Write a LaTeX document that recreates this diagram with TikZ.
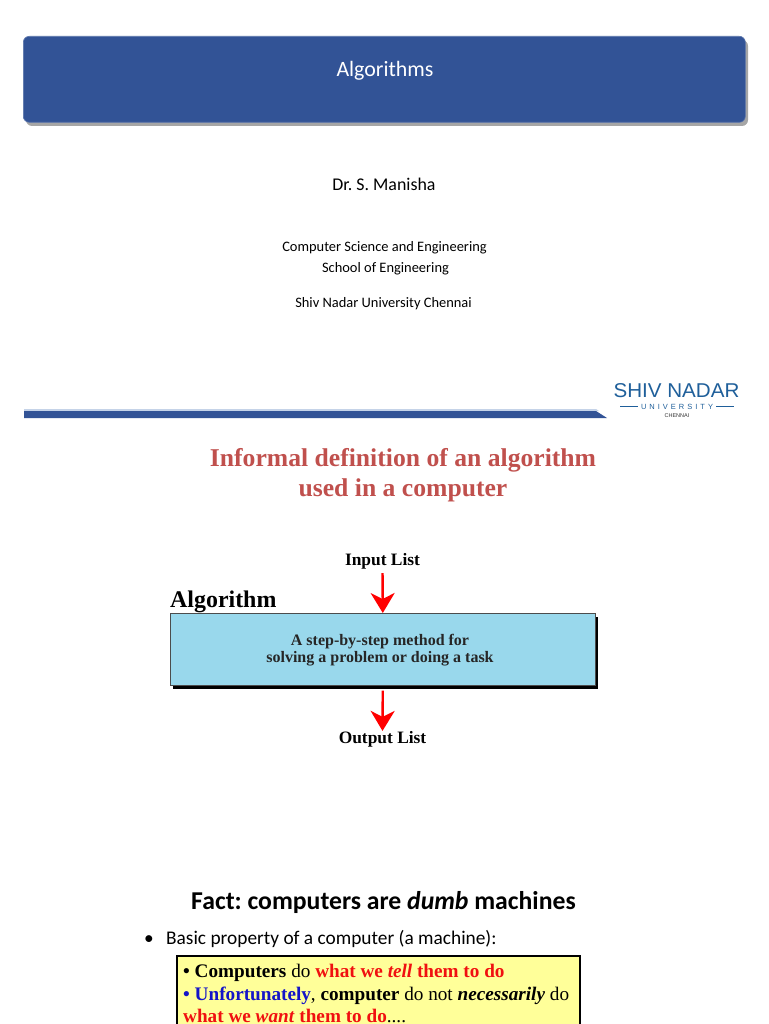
\documentclass[tikz,border=0pt]{standalone}
\usepackage{fontspec}
\setmainfont{Liberation Serif}
\newfontfamily\calib{Carlito}
\newfontfamily\lsans{Liberation Sans}
\usetikzlibrary{arrows.meta,calc}
\definecolor{hdr}{HTML}{325396}
\definecolor{hdrlite}{HTML}{C5D3E8}
\definecolor{boxblue}{HTML}{99D8EC}
\definecolor{yel}{HTML}{FFFF99}
\definecolor{titlered}{HTML}{C0504D}
\definecolor{logoblue}{HTML}{1F5F9A}
\definecolor{txtred}{HTML}{F01010}
\definecolor{txtblue}{HTML}{1414C8}
\frenchspacing
\tikzset{
  x=1pt,y=-1pt,
  lbl/.style={inner sep=0pt,text=black},
  calibtxt/.style={lbl,font=\calib\fontsize{14.45}{16}\selectfont},
  figlab/.style={lbl,font=\bfseries\fontsize{17.4}{18}\selectfont},
  redarrow/.style={draw=red,line width=2.4pt,-{Stealth[length=20pt,width=24pt,inset=6pt]}},
}
\begin{document}
\begin{tikzpicture}
\useasboundingbox (0,0) rectangle (768,1024);
\clip (0,0) rectangle (768,1024);
% header
\fill[black!35,rounded corners=6pt] (26,40) rectangle (748,126);
\node[fill=hdr,draw=hdr!80!white,line width=.6pt,rounded corners=6pt,minimum width=722pt,minimum height=86pt,inner sep=0pt,anchor=north west] (hdrbox) at (23,36) {};
\node[lbl,text=white,font=\calib\fontsize{21.9}{24}\selectfont] (hdrtxt) at (385,71) {Algorithms};
% credits
\node[calibtxt,font=\calib\fontsize{17.9}{18}\selectfont] (author) at (384,184) {Dr. S. Manisha};
\node[calibtxt] (dept) at (384.5,248) {Computer Science and Engineering};
\node[calibtxt] (school) at (385.5,269) {School of Engineering};
\node[calibtxt] (uni) at (383.5,304) {Shiv Nadar University Chennai};
% bar
\fill[hdrlite] (24,409) -- (596,409) -- (599,411) -- (24,411) -- cycle;
\fill[hdr] (24,411) -- (596,411) -- (607,418) -- (24,418) -- cycle;
% logo
\node[lbl,text=logoblue,font=\lsans\fontsize{20}{24}\selectfont,xscale=1.03] (logo) at (676.5,390.5) {SHIV NADAR};
\node[lbl,text=logoblue,font=\lsans\fontsize{7.5}{9}\selectfont] (logou) at (677,406.5) {U\hspace{3pt}N\hspace{3pt}I\hspace{3pt}V\hspace{3pt}E\hspace{3pt}R\hspace{3pt}S\hspace{3pt}I\hspace{3pt}T\hspace{3pt}Y};
\draw[logoblue,line width=.6pt] (logou.west) ++(-3,0) -- ++(-18,0);
\draw[logoblue,line width=.6pt] (logou.east) ++(3,0) -- ++(18,0);
\node[lbl,text=black!80,font=\lsans\fontsize{5.5}{6}\selectfont] (logoc) at (677,415.5) {CHENNAI};
% heading
\node[lbl,text=titlered,font=\bfseries\fontsize{25.65}{30.5}\selectfont,align=center] (head) at (403,475) {Informal definition of an algorithm\\used in a computer};
% figure
\fill[black] (173,616.5) rectangle (598,688.5);
\node[draw=black!70,line width=.6pt,fill=boxblue,minimum width=425pt,minimum height=72pt,inner sep=0pt,anchor=north west] (algbox) at (170,613) {};
\node[lbl,align=center,font=\bfseries\fontsize{16}{16.5}\selectfont,text=black!85] (algtxt) at (380,650) {A step-by-step method for\\solving a problem or doing a task};
\node[figlab] (inp) at (382.5,561) {Input List};
\node[figlab] (outp) at (382.5,739) {Output List};
\node[lbl,font=\bfseries\fontsize{23.9}{28}\selectfont,anchor=base west] (alglab) at (170,607.5) {Algorithm};
\draw[redarrow,shorten <=4pt] (inp.south) -- (algbox.north);
\draw[redarrow,shorten <=5pt,shorten >=0pt] (algbox.south) -- (outp.north);
% fact
\node[lbl,font=\calib\bfseries\fontsize{25.7}{28}\selectfont] (fact) at (383.5,902) {Fact: computers are \textit{dumb} machines};
\node[lbl,font=\calib\fontsize{19.35}{21}\selectfont,anchor=base west] (prop) at (166,944) {Basic property of a computer (a machine):};
\node[lbl,font=\calib\fontsize{19.35}{21}\selectfont,anchor=base west] (bul) at (144,944) {\textbullet};
% yellow box
\node[draw=black,line width=1.8pt,fill=yel,minimum width=403pt,minimum height=90pt,inner sep=0pt,anchor=north west] (ybox) at (176,955) {};
\node[lbl,font=\fontsize{19.2}{22.7}\selectfont,align=left,anchor=north west] (ytxt) at (183,964) {%
\textbf{\textbullet{} Computers} do \textcolor{txtred}{\textbf{what we \textit{tell} them to do}}\\
\textcolor{txtblue}{\textbf{\textbullet{} Unfortunately}}, \textbf{computer} do not \textbf{\textit{necessarily}} do\\
\textcolor{txtred}{\textbf{what we \textit{want} them to do}}....};
\end{tikzpicture}
\end{document}
